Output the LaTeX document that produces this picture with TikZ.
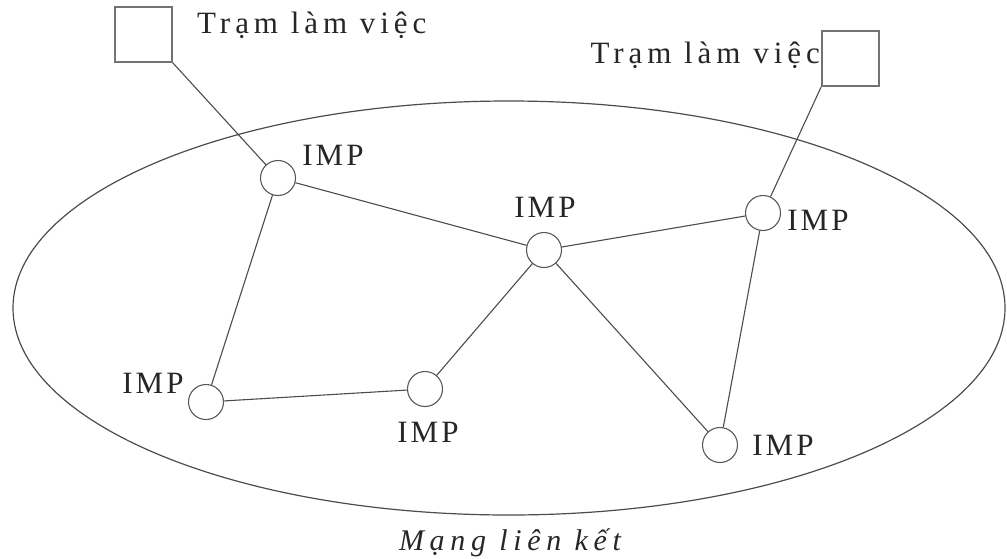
\documentclass[tikz,border=0pt]{standalone}
\usepackage{fontspec}
\setmainfont{Liberation Serif}
\newfontfamily\stationfont[LetterSpace=16]{Liberation Serif}
\newfontfamily\impfont[LetterSpace=10]{Liberation Serif}
\newfontfamily\captionfont[LetterSpace=19]{Liberation Serif Italic}
\begin{document}
\begin{tikzpicture}[x=1pt,y=-1pt,
  link/.style={draw=black!70,line width=1.1pt},
  imp/.style={circle,draw=black!65,line width=1.1pt,fill=white,minimum size=35pt,inner sep=0pt},
  station/.style={rectangle,draw=black!55,line width=1.6pt,fill=white,minimum width=57pt,minimum height=55pt,inner sep=0pt},
  stlbl/.style={inner sep=0pt,text=black!85,font=\stationfont\fontsize{31}{31}\selectfont},
  lbl/.style={inner sep=0pt,text=black!85,font=\impfont\fontsize{31}{31}\selectfont},
  netcaption/.style={inner sep=0pt,text=black!85,font=\captionfont\fontsize{30}{30}\selectfont}]
\useasboundingbox (0,0) rectangle (1007,558);

% interconnection network boundary
\draw[draw=black!70,line width=1.2pt] (509,308) ellipse [x radius=496, y radius=207];

% workstations
\node[station] (wsL) at (143.5,34.5) {};
\node[station] (wsR) at (850.5,58.5) {};
\node[stlbl,anchor=base west] (tL) at (197,33) {Trạm làm việc};
\node[stlbl,anchor=base east] (tR) at (820,63) {Trạm làm việc};

% IMP nodes
\node[imp] (a) at (278,178) {};
\node[imp] (b) at (544,250) {};
\node[imp] (c) at (763,213) {};
\node[imp] (d) at (206,402) {};
\node[imp] (e) at (425,389) {};
\node[imp] (f) at (720,445) {};

\node[lbl,anchor=base] (la) at (333,165) {IMP};
\node[lbl,anchor=base] (lb) at (545,217) {IMP};
\node[lbl,anchor=base] (lc) at (818,230) {IMP};
\node[lbl,anchor=base] (ld) at (153,393) {IMP};
\node[lbl,anchor=base] (le) at (428,442) {IMP};
\node[lbl,anchor=base] (lf) at (783,455) {IMP};

% links
\draw[link] (wsL.south east) -- (a);
\draw[link] (wsR.south west) -- (c);
\draw[link] (a) -- (b);
\draw[link] (a) -- (d);
\draw[link] (d) -- (e);
\draw[link] (e) -- (b);
\draw[link] (b) -- (c);
\draw[link] (b) -- (f);
\draw[link] (c) -- (f);

\node[netcaption,anchor=base] (net) at (510,550) {Mạng liên kết};
\end{tikzpicture}
\end{document}
